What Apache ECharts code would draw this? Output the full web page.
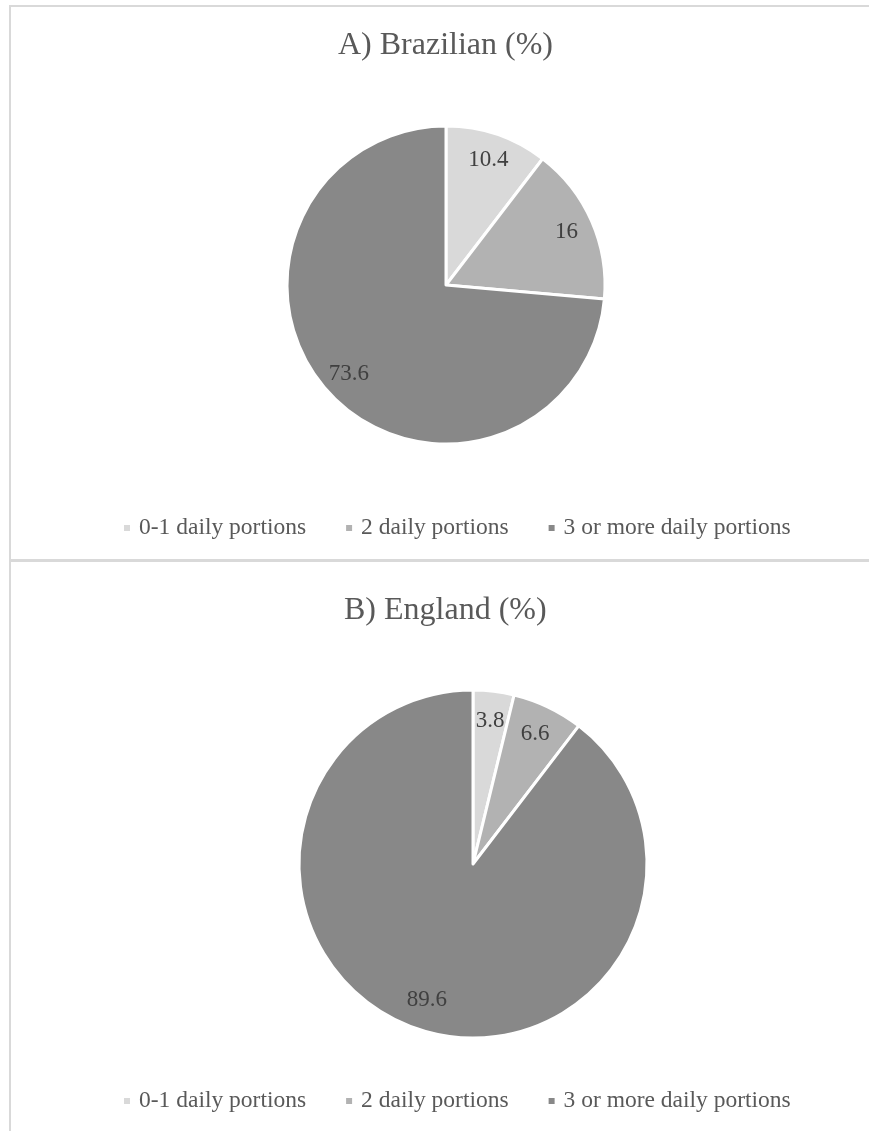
<!DOCTYPE html>
<html>
<head>
<meta charset="utf-8">
<script src="https://cdn.jsdelivr.net/npm/echarts@6/dist/echarts.min.js"></script>
<style>
  html, body { margin: 0; padding: 0; background: #fff; overflow: hidden; }
  #chart { width: 869px; height: 1131px; }
</style>
</head>
<body>
<div id="chart"></div>
<script>
// categories shared by both pies
const categories = ["0-1 daily portions", "2 daily portions", "3 or more daily portions"];
const sliceColors = ["#d9d9d9", "#b2b2b2", "#888888"];

// share of respondents (%)
const brazilValues = [10.4, 16, 73.6];
const englandValues = [3.8, 6.6, 89.6];

const titles = ["A) Brazilian (%)", "B) England (%)"];

const FONT = "'Liberation Serif', 'Times New Roman', serif";

const toData = (values) =>
  values.map((v, i) => ({ name: categories[i], value: v, itemStyle: { color: sliceColors[i] } }));

// one pie draws the slices, a second ring (transparent) only carries labels
const pieSeries = (values, center, r) => [
  {
    type: "pie",
    center: center,
    radius: [0, r],
    startAngle: 90,
    clockwise: true,
    data: toData(values),
    label: { show: false },
    labelLine: { show: false },
    itemStyle: { borderColor: "#ffffff", borderWidth: 3 },
    emphasis: { disabled: true },
    animation: false,
  },
  {
    type: "pie",
    center: center,
    radius: [r * 0.62, r],
    startAngle: 90,
    clockwise: true,
    data: values.map((v, i) => ({ name: categories[i], value: v })),
    itemStyle: { color: "transparent" },
    label: {
      show: true,
      position: "inside",
      formatter: "{c}",
      color: "#404040",
      fontFamily: FONT,
      fontSize: 23,
    },
    labelLine: { show: false },
    silent: true,
    emphasis: { disabled: true },
    animation: false,
  },
];

const legendAt = (top) => ({
  data: categories,
  left: 122,
  top: top,
  padding: 0,
  itemWidth: 8,
  itemHeight: 8,
  itemGap: 38,
  icon: "rect",
  selectedMode: false,
  textStyle: { color: "#595959", fontFamily: FONT, fontSize: 23.5, padding: [0, 0, 0, 3] },
});

const initChart = () => {
  const chart = echarts.init(document.getElementById("chart"));

  const option = {
    backgroundColor: "#ffffff",
    color: sliceColors,
    title: [
      {
        text: titles[0],
        left: 338,
        top: 30,
        padding: 0,
        textStyle: { color: "#595959", fontFamily: FONT, fontSize: 32, fontWeight: "normal" },
      },
      {
        text: titles[1],
        left: 344,
        top: 595,
        padding: 0,
        textStyle: { color: "#595959", fontFamily: FONT, fontSize: 32, fontWeight: "normal" },
      },
    ],
    legend: [legendAt(516), legendAt(1089)],
    // panel frame lines
    graphic: [
      { type: "rect", shape: { x: 9, y: 5, width: 2, height: 1126 }, style: { fill: "#d9d9d9" }, silent: true },
      { type: "rect", shape: { x: 9, y: 5, width: 860, height: 2 }, style: { fill: "#d9d9d9" }, silent: true },
      { type: "rect", shape: { x: 9, y: 559, width: 860, height: 3 }, style: { fill: "#d9d9d9" }, silent: true },
    ],
    series: [
      ...pieSeries(brazilValues, [446, 285], 159),
      ...pieSeries(englandValues, [473, 864], 174),
    ],
  };

  chart.setOption(option);
};

initChart();
</script>
</body>
</html>
